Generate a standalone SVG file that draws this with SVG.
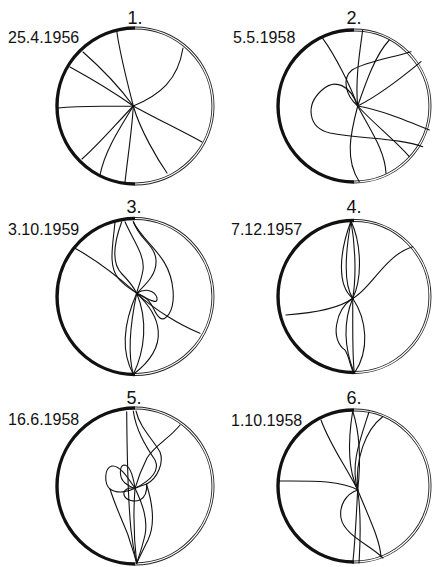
<svg xmlns="http://www.w3.org/2000/svg" width="432" height="567" viewBox="0 0 432 567">
<style>
.num{font-family:"Liberation Sans",Arial,sans-serif;font-size:18px;fill:#111;text-anchor:middle}
.date{font-family:"Liberation Sans",Arial,sans-serif;font-size:16px;fill:#111}
.thick{fill:none;stroke:#111;stroke-width:3.4}
.dbl{fill:none;stroke:#222;stroke-width:3}
.dblw{fill:none;stroke:#fff;stroke-width:1.2}
.ln{fill:none;stroke:#111;stroke-width:1.1;stroke-linecap:round}
</style>
<rect width="432" height="567" fill="#fff"/>
<g id="panel1">
<text class="num" x="135" y="24">1.</text>
<text class="date" x="8" y="43">25.4.1956</text>
<path class="dbl" d="M135,28 A78,78 0 0 1 135,184"/>
<path class="dblw" d="M135,28 A78,78 0 0 1 135,184"/>
<path class="thick" d="M135,28 A78,78 0 0 0 135,184"/>
</g>
<g id="panel2">
<text class="num" x="354" y="24">2.</text>
<text class="date" x="233" y="43">5.5.1958</text>
<path class="dbl" d="M354,30 A76,76 0 0 1 354,182"/>
<path class="dblw" d="M354,30 A76,76 0 0 1 354,182"/>
<path class="thick" d="M354,30 A76,76 0 0 0 354,182"/>
</g>
<g id="panel3">
<text class="num" x="134" y="213">3.</text>
<text class="date" x="8" y="235">3.10.1959</text>
<path class="dbl" d="M135,218.5 A78,78 0 0 1 135,374.5"/>
<path class="dblw" d="M135,218.5 A78,78 0 0 1 135,374.5"/>
<path class="thick" d="M135,218.5 A78,78 0 0 0 135,374.5"/>
</g>
<g id="panel4">
<text class="num" x="354" y="213">4.</text>
<text class="date" x="231" y="235">7.12.1957</text>
<path class="dbl" d="M354,220.5 A76,76 0 0 1 354,372.5"/>
<path class="dblw" d="M354,220.5 A76,76 0 0 1 354,372.5"/>
<path class="thick" d="M354,220.5 A76,76 0 0 0 354,372.5"/>
</g>
<g id="panel5">
<text class="num" x="134" y="404">5.</text>
<text class="date" x="8" y="425">16.6.1958</text>
<path class="dbl" d="M135,408 A78,78 0 0 1 135,564"/>
<path class="dblw" d="M135,408 A78,78 0 0 1 135,564"/>
<path class="thick" d="M135,408 A78,78 0 0 0 135,564"/>
</g>
<g id="panel6">
<text class="num" x="354" y="404">6.</text>
<text class="date" x="231" y="426">1.10.1958</text>
<path class="dbl" d="M354,410 A76,76 0 0 1 354,562"/>
<path class="dblw" d="M354,410 A76,76 0 0 1 354,562"/>
<path class="thick" d="M354,410 A76,76 0 0 0 354,562"/>
</g>
<g id="connectors">
<!-- panel 1 -->
<path class="ln" d="M116.7,30.7 C120,55 128,85 133.3,106"/>
<path class="ln" d="M83,52 C100,67 118,85 133.3,106"/>
<path class="ln" d="M70,67 C90,78 115,93 133.3,106"/>
<path class="ln" d="M58,108 C85,105 110,107 133.3,106"/>
<path class="ln" d="M82,159 C100,143 115,125 133.3,106"/>
<path class="ln" d="M100,175 C105,150 120,128 133.3,106"/>
<path class="ln" d="M125,182 C128,155 132,130 133.3,106"/>
<path class="ln" d="M167,173 C158,160 140,130 133.3,106"/>
<path class="ln" d="M202,142 C180,130 155,118 133.3,106"/>
<path class="ln" d="M183,48 C178,80 160,95 133.3,106"/>
<!-- panel 2 -->
<path class="ln" d="M322.7,38.3 C335,55 350,85 357.7,106"/>
<path class="ln" d="M362.7,30 C360,50 355,80 357.7,106"/>
<path class="ln" d="M389.3,40 C375,55 365,85 357.7,106"/>
<path class="ln" d="M411,51.7 C390,58 365,62 352,70 C342,78 345,95 357.7,106"/>
<path class="ln" d="M421,61.7 C405,75 380,95 357.7,106"/>
<path class="ln" d="M357.7,106 C350,85 335,78 322,90 C305,105 308,128 330,133 C360,139 400,138 422.7,146.7"/>
<path class="ln" d="M429.3,130 C400,118 380,110 357.7,106"/>
<path class="ln" d="M357.7,106 C350,135 345,160 359.3,181.7"/>
<path class="ln" d="M357.7,106 C370,130 385,150 386,173.3"/>
<path class="ln" d="M357.7,106 C375,125 395,140 409.3,156.7"/>
<!-- panel 3 -->
<path class="ln" d="M75,248.3 C100,262 125,283 136.7,293.3 C155,310 180,325 200,333.3"/>
<path class="ln" d="M115,221.7 C113,245 108,265 118,278 C125,287 133,290 136.7,293.3"/>
<path class="ln" d="M121.7,221.7 C115,240 110,262 122,274 C130,282 134,288 136.7,293.3"/>
<path class="ln" d="M125,221.7 C133,240 145,255 143,270 C141,282 137,290 136.7,293.3"/>
<path class="ln" d="M133.3,221.7 C140,240 155,245 156,260 C157,275 145,285 136.7,293.3"/>
<path class="ln" d="M133.3,221.7 C145,245 170,255 173,290 C175,312 165,322 160,318 C152,312 155,300 136.7,293.3"/>
<path class="ln" d="M136.7,293.3 C145,288 155,290 157,298 C158,305 150,300 136.7,293.3"/>
<path class="ln" d="M136.7,293.3 C125,320 120,350 133.3,374.3"/>
<path class="ln" d="M136.7,293.3 C130,325 128,355 133.3,374.3"/>
<path class="ln" d="M136.7,293.3 C148,320 145,350 133.3,374.3"/>
<path class="ln" d="M136.7,293.3 C160,315 172,345 133.3,374.3"/>
<!-- panel 4 -->
<path class="ln" d="M351,221 C340,250 336,285 352.7,298.3"/>
<path class="ln" d="M351,221 C345,255 344,285 352.7,298.3"/>
<path class="ln" d="M351,221 C362,245 362,280 352.7,298.3"/>
<path class="ln" d="M351,221 C356,250 356,280 352.7,298.3"/>
<path class="ln" d="M412.7,246.7 C385,255 370,290 352.7,298.3"/>
<path class="ln" d="M286,315 C315,313 340,308 352.7,298.3"/>
<path class="ln" d="M352.7,298.3 C335,310 330,340 345,350 C350,358 350,368 354.3,373.3"/>
<path class="ln" d="M352.7,298.3 C342,325 345,350 354.3,373.3"/>
<path class="ln" d="M352.7,298.3 C353,325 352,350 354.3,373.3"/>
<path class="ln" d="M352.7,298.3 C367,320 370,350 354.3,373.3"/>
<!-- panel 5 -->
<path class="ln" d="M126.7,411.7 C127,450 128,500 131,530 C133,548 135,556 136.7,563.3"/>
<path class="ln" d="M133.3,411 C136,430 145,445 155,460 C160,470 152,480 135,488.3"/>
<path class="ln" d="M136,411 C140,428 152,438 160,452 C164,462 158,478 146.7,484"/>
<path class="ln" d="M180,425 C170,438 155,445 147,458 C142,468 138,478 135,488.3"/>
<path class="ln" d="M135,488.3 C128,478 120,465 112,466 C104,468 104,484 110,489 C117,494 128,492 135,488.3"/>
<path class="ln" d="M135,488.3 C133,475 130,465 124,465 C119,466 119,478 125,483 C129,486 133,488 135,488.3"/>
<path class="ln" d="M135,488.3 C128,487 123,490 124,495 C126,501 135,502 140,500 C146,497 147,490 146.7,484 C143,485 138,487 135,488.3"/>
<path class="ln" d="M110,489 C115,505 122,520 128,535 C132,548 135,556 136.7,563.3"/>
<path class="ln" d="M135,488.3 C133,515 134,540 136.7,563.3"/>
<path class="ln" d="M135,488.3 C143,505 148,520 145,535 C142,548 139,556 136.7,563.3"/>
<path class="ln" d="M146.7,485 C153,505 155,525 148,540 C143,550 139,558 136.7,563.3"/>
<!-- panel 6 -->
<path class="ln" d="M279.3,481 C310,481 340,480 357.7,490"/>
<path class="ln" d="M321,420 C330,445 345,465 357.7,490"/>
<path class="ln" d="M352.7,411 C348,440 348,470 357.7,490"/>
<path class="ln" d="M352.7,411 C362,440 360,470 357.7,490"/>
<path class="ln" d="M369,412 C360,440 350,465 357.7,490"/>
<path class="ln" d="M382.7,416.7 C365,430 355,460 357.7,490"/>
<path class="ln" d="M357.7,490 C346,494 339,505 341,518 C344,535 370,545 383,558"/>
<path class="ln" d="M357.7,490 C356,520 355,545 352.7,563"/>
<path class="ln" d="M357.7,490 C362,520 360,545 359,563"/>
<path class="ln" d="M357.7,490 C370,520 380,540 381,557"/>
</g>
</svg>
